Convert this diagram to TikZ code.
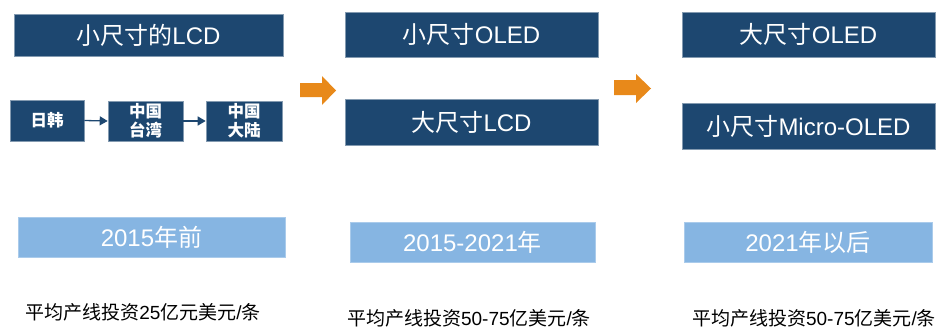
\documentclass[tikz,border=0pt]{standalone}
\usepackage{fontspec}
\setmainfont{Liberation Sans}
\newfontfamily\cjk{Noto Sans CJK SC}
\newcommand\zh[1]{{\cjk #1}}
\usetikzlibrary{arrows.meta}
\definecolor{darkb}{RGB}{29,71,112}
\definecolor{lightb}{RGB}{134,181,226}
\definecolor{orng}{RGB}{232,137,26}
\tikzset{
  titlebox/.style={fill=darkb, draw=darkb!55!white, line width=0.6pt, text=white, inner sep=0pt,
    font=\fontsize{24}{28}\selectfont},
  smallbox/.style={fill=darkb, draw=darkb!55!white, line width=0.6pt, text=white, inner sep=0pt,
    align=center, font=\fontsize{16.5}{19}\selectfont\bfseries},
  yearbox/.style={fill=lightb, draw=lightb!70!white, line width=0.6pt, text=white, inner sep=0pt,
    minimum height=40pt, font=\fontsize{24}{28}\selectfont},
  costtext/.style={text=black, inner sep=0pt, font=\fontsize{19}{22}\selectfont},
  flow/.style={draw=darkb, line width=1.3pt, -{Triangle[length=8pt,width=9pt]}},
  bigarrow/.style={fill=orng, draw=none}
}
\begin{document}
\begin{tikzpicture}[x=1pt,y=-1pt]
\useasboundingbox (0,0) rectangle (949,329);
% column 1
\node[titlebox, minimum width=269pt, minimum height=42pt] (lcdsmall) at (148.5,35) {\zh{小尺寸的}LCD};
\node[smallbox, minimum width=74pt, minimum height=41pt] (jk) at (47,120.5) {\zh{日韩}};
\node[smallbox, minimum width=75pt, minimum height=40pt] (tw) at (145.5,121) {\zh{中国}\\\zh{台湾}};
\node[smallbox, minimum width=76pt, minimum height=40pt] (cn) at (244,121) {\zh{中国}\\\zh{大陆}};
\draw[flow] (jk.east) -- (tw.west);
\draw[flow] (tw.east) -- (cn.west);
\node[yearbox, minimum width=267pt] (y1) at (151.5,237) {2015\zh{年前}};
\node[costtext] (c1) at (143,312) {\zh{平均产线投资}25\zh{亿元美元}/\zh{条}};
% arrow 1
\fill[bigarrow] (300,83) -- (322,83) -- (322,76) -- (336,90.5) -- (322,105) -- (322,97) -- (300,97) -- cycle;
% column 2
\node[titlebox, minimum width=253pt, minimum height=45pt] (oledsmall) at (471.5,34.5) {\zh{小尺寸}OLED};
\node[titlebox, minimum width=253pt, minimum height=46pt] (lcdbig) at (471.5,122) {\zh{大尺寸}LCD};
\node[yearbox, minimum width=245pt] (y2) at (472.5,242) {2015-2021\zh{年}};
\node[costtext] (c2) at (469,318) {\zh{平均产线投资}50-75\zh{亿美元}/\zh{条}};
% arrow 2
\fill[bigarrow] (614,80) -- (636,80) -- (636,74) -- (651,88.5) -- (636,103) -- (636,95) -- (614,95) -- cycle;
% column 3
\node[titlebox, minimum width=253pt, minimum height=45pt] (oledbig) at (808.5,34.5) {\zh{大尺寸}OLED};
\node[titlebox, minimum width=253pt, minimum height=46pt] (micro) at (808.5,126) {\zh{小尺寸}Micro-OLED};
\node[yearbox, minimum width=248pt] (y3) at (808,242) {2021\zh{年以后}};
\node[costtext] (c3) at (814,318) {\zh{平均产线投资}50-75\zh{亿美元}/\zh{条}};
\end{tikzpicture}
\end{document}
